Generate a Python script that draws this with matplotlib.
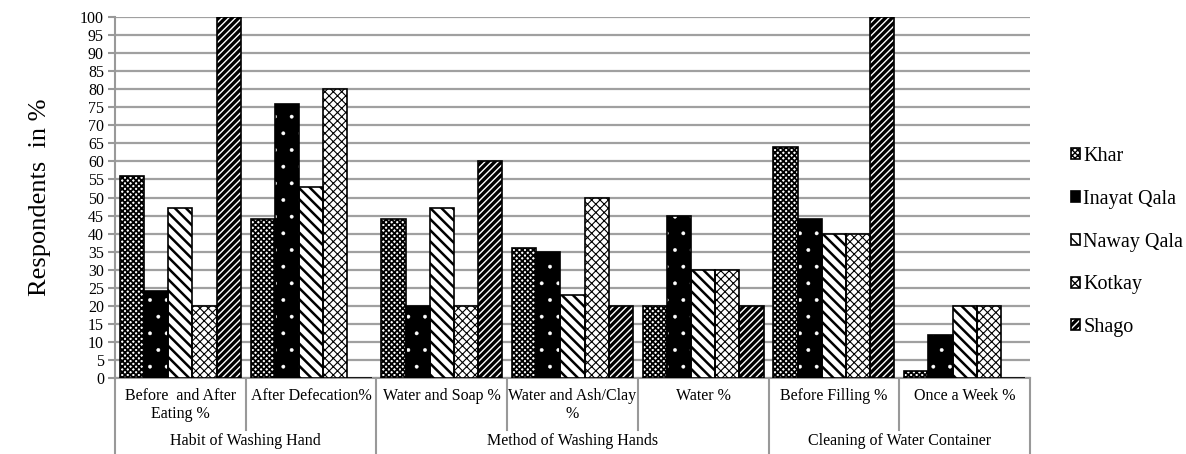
import numpy as np
import matplotlib
matplotlib.use("Agg")
import matplotlib.pyplot as plt
from matplotlib.patches import Patch

plt.rcParams['font.family'] = ['Liberation Serif', 'DejaVu Serif']

# survey results, % of respondents per village
categories = ["Before  and After\nEating %", "After Defecation%", "Water and Soap %",
              "Water and Ash/Clay\n%", "Water %", "Before Filling %", "Once a Week %"]
groups = ["Habit of Washing Hand", "Method of Washing Hands", "Cleaning of Water Container"]
group_sizes = [2, 3, 2]
villages = ["Khar", "Inayat Qala", "Naway Qala", "Kotkay", "Shago"]

khar = [56, 44, 44, 36, 20, 64, 2]
inayat_qala = [24, 76, 20, 35, 45, 44, 12]
naway_qala = [47, 53, 47, 23, 30, 40, 20]
kotkay = [20, 80, 20, 50, 30, 40, 20]
shago = [100, 0, 60, 20, 20, 100, 0]
series = [khar, inayat_qala, naway_qala, kotkay, shago]

# face colour, hatch colour, hatch pattern, hatch line width for each village
styles = [("white", "black", "xxxxxx", 1.3),
          ("black", "white", ".", 0.3),
          ("white", "black", "\\\\\\", 1.8),
          ("white", "black", "xxxx", 0.8),
          ("black", "white", "/////", 1.0)]

fig = plt.figure(figsize=(11.86, 4.54), dpi=100)
ax = fig.add_axes([115 / 1186, 76 / 454, (1030 - 115) / 1186, 361 / 454])

x = np.arange(len(categories))
width = 0.185
handles = []
for i, (vals, (fc, hc, hatch, hlw)) in enumerate(zip(series, styles)):
    pos = x + (i - 2) * width
    with plt.rc_context({'hatch.linewidth': hlw}):
        ax.bar(pos, vals, width, color=fc, edgecolor=hc, hatch=hatch, linewidth=0, zorder=3)
        hatched = Patch(facecolor=fc, edgecolor=hc, hatch=hatch, linewidth=0)
    ax.bar(pos, vals, width, fill=False, edgecolor="black", linewidth=1.2, zorder=4)
    handles.append((hatched, Patch(fill=False, edgecolor="black", linewidth=1.2)))

ax.set_xlim(-0.5, len(categories) - 0.5)
ax.set_ylim(0, 100)
ax.set_yticks(np.arange(0, 101, 5))
ax.tick_params(axis='y', labelsize=11.5, length=5, width=1.5, color="#999999", pad=3)
ax.set_xticks([])
ax.yaxis.grid(True, color="#a0a0a0", linewidth=1.6, zorder=0)
ax.set_axisbelow(True)
for side in ["top", "right"]:
    ax.spines[side].set_visible(False)
for side in ["left", "bottom"]:
    ax.spines[side].set_color("#999999")
    ax.spines[side].set_linewidth(1.5)

# two-level category axis below the plot
trans = ax.get_xaxis_transform()
inner_bottom = -52 / 361
outer_bottom = -80 / 361
edges = np.concatenate([[0], np.cumsum(group_sizes)]) - 0.5
for b in np.arange(-0.5, len(categories)):
    y0 = outer_bottom if b in edges else inner_bottom
    ax.plot([b, b], [0, y0], transform=trans, color="#999999", linewidth=1.5, clip_on=False)
for xi, lab in zip(x, categories):
    ax.text(xi, -10 / 361, lab, transform=trans, ha="center", va="top",
            fontsize=11.5, linespacing=1.15)
for g, lab in enumerate(groups):
    mid = (edges[g] + edges[g + 1]) / 2
    ax.text(mid, -63 / 361, lab, transform=trans, ha="center", va="center", fontsize=11.5)

fig.text(40 / 1186, (454 - 197) / 454, "Respondents  in %", rotation=90,
         ha="center", va="center", fontsize=19)

fig.legend(handles, villages, loc="center left", bbox_to_anchor=(1061 / 1186, (454 - 242) / 454),
           frameon=False, fontsize=14.5, handlelength=0.45, handleheight=0.45,
           handletextpad=0.15, labelspacing=1.18, borderpad=0)

fig.savefig("out.png", dpi=100)
